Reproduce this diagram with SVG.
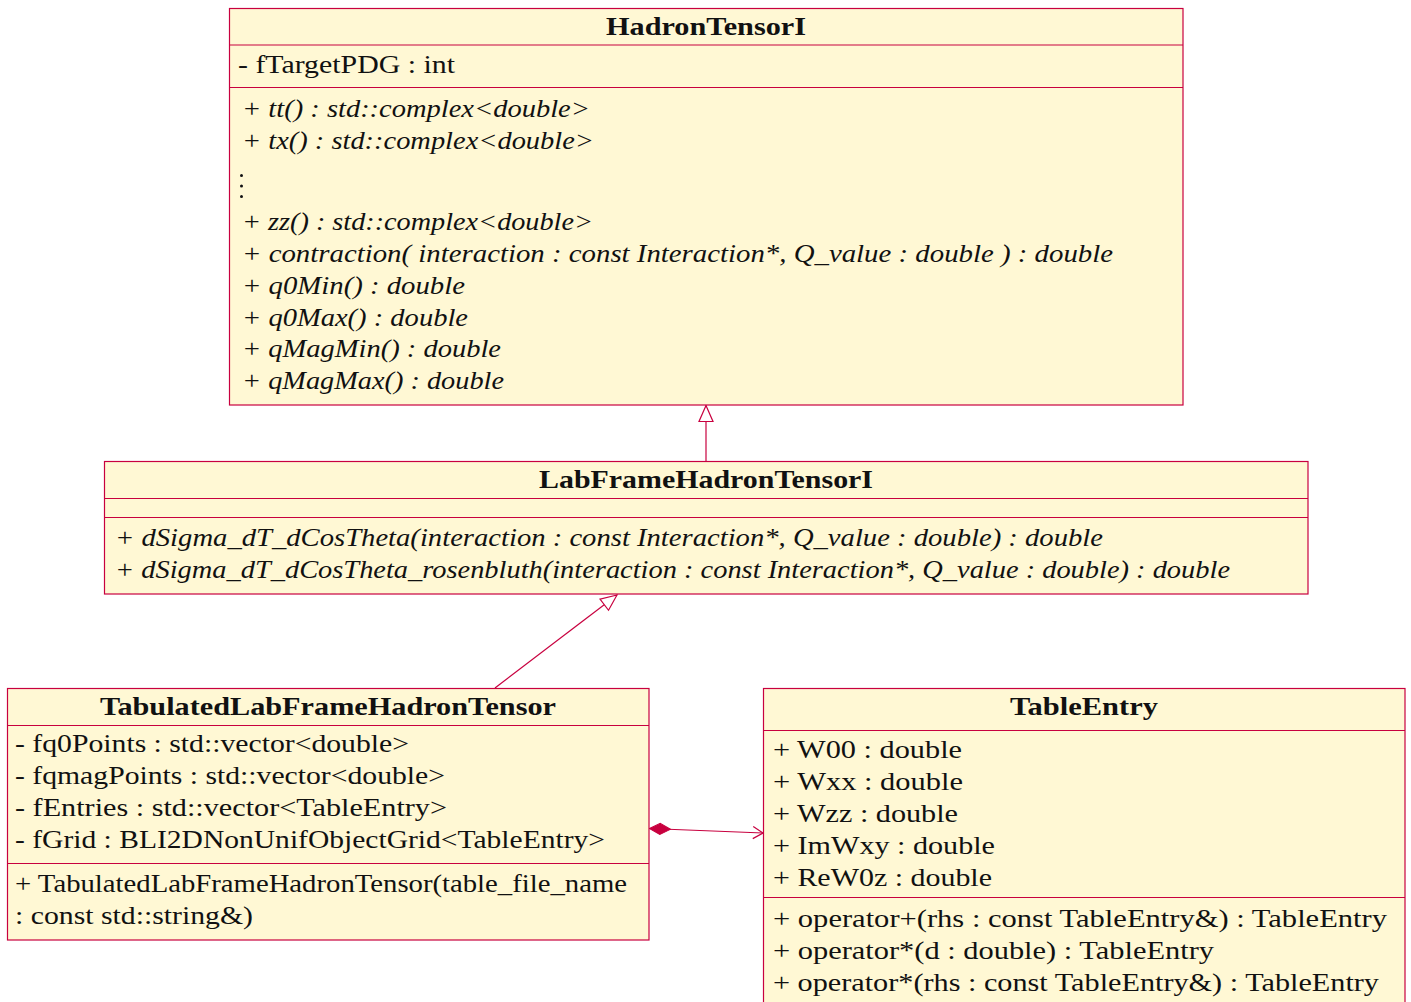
<svg xmlns="http://www.w3.org/2000/svg" width="1411" height="1002" viewBox="0 0 1411 1002">
  <style>
    .box { fill: #fff8d4; stroke: #c8003f; stroke-width: 1.2; }
    .sep { stroke: #c8003f; stroke-width: 1.2; }
    .t { font-family: "Liberation Serif", "DejaVu Serif", serif; font-size: 25px; fill: #111; }
    .title { font-weight: bold; text-anchor: middle; }
    .it { font-style: italic; }
    .edge { stroke: #c8003f; stroke-width: 1.2; fill: none; }
  </style>
  <defs>
    <!-- generalization: hollow triangle -->
    <marker id="inherit" markerUnits="userSpaceOnUse" markerWidth="24" markerHeight="20" viewBox="-18 -10 20 20" refX="0" refY="0" orient="auto">
      <path d="M0,0 L-16,-7 L-16,7 Z" fill="#ffffff" stroke="#c8003f" stroke-width="1.2"/>
    </marker>
    <!-- composition: filled diamond at the owner -->
    <marker id="compose" markerUnits="userSpaceOnUse" markerWidth="26" markerHeight="16" viewBox="-2 -8 26 16" refX="0" refY="0" orient="auto">
      <path d="M0,0 L10.5,-5.5 L21,0 L10.5,5.5 Z" fill="#c8003f" stroke="#c8003f" stroke-width="1"/>
    </marker>
    <!-- navigability: open arrow -->
    <marker id="navigate" markerUnits="userSpaceOnUse" markerWidth="16" markerHeight="16" viewBox="-12 -8 14 16" refX="0" refY="0" orient="auto">
      <path d="M-10,-6 L0,0 L-10,6" fill="none" stroke="#c8003f" stroke-width="1.2"/>
    </marker>
  </defs>

  <g id="connectors">
    <line class="edge" x1="706" y1="461" x2="706" y2="405.5" marker-end="url(#inherit)"/>
    <line class="edge" x1="495" y1="688" x2="617" y2="595" marker-end="url(#inherit)"/>
    <line class="edge" x1="649.5" y1="828.5" x2="763" y2="833" marker-start="url(#compose)" marker-end="url(#navigate)"/>
  </g>

  <g id="HadronTensorI">
    <rect class="box" x="229.5" y="8.5" width="953.5" height="396.5"/>
    <line class="sep" x1="229.5" y1="45" x2="1183" y2="45"/>
    <line class="sep" x1="229.5" y1="87.5" x2="1183" y2="87.5"/>
    <text class="t title" x="706" y="35" textLength="200" lengthAdjust="spacingAndGlyphs">HadronTensorI</text>
    <text class="t" x="238" y="73" textLength="217" lengthAdjust="spacingAndGlyphs">- fTargetPDG : int</text>
    <text class="t it" x="242" y="117" textLength="348" lengthAdjust="spacingAndGlyphs">+ tt() : std::complex&lt;double&gt;</text>
    <text class="t it" x="242" y="149" textLength="352" lengthAdjust="spacingAndGlyphs">+ tx() : std::complex&lt;double&gt;</text>
    <g fill="#111">
      <circle cx="241.5" cy="175.5" r="1.5"/>
      <circle cx="241.5" cy="186" r="1.5"/>
      <circle cx="241.5" cy="196.5" r="1.5"/>
    </g>
    <text class="t it" x="242" y="230" textLength="351" lengthAdjust="spacingAndGlyphs">+ zz() : std::complex&lt;double&gt;</text>
    <text class="t it" x="242" y="262" textLength="871" lengthAdjust="spacingAndGlyphs">+ contraction( interaction : const Interaction*, Q_value : double ) : double</text>
    <text class="t it" x="242" y="294" textLength="223" lengthAdjust="spacingAndGlyphs">+ q0Min() : double</text>
    <text class="t it" x="242" y="326" textLength="226" lengthAdjust="spacingAndGlyphs">+ q0Max() : double</text>
    <text class="t it" x="242" y="357" textLength="259" lengthAdjust="spacingAndGlyphs">+ qMagMin() : double</text>
    <text class="t it" x="242" y="389" textLength="262" lengthAdjust="spacingAndGlyphs">+ qMagMax() : double</text>
  </g>

  <g id="LabFrameHadronTensorI">
    <rect class="box" x="104.5" y="461.5" width="1203.5" height="132.5"/>
    <line class="sep" x1="104.5" y1="498.5" x2="1308" y2="498.5"/>
    <line class="sep" x1="104.5" y1="517.5" x2="1308" y2="517.5"/>
    <text class="t title" x="706" y="488" textLength="334" lengthAdjust="spacingAndGlyphs">LabFrameHadronTensorI</text>
    <text class="t it" x="115" y="546" textLength="988" lengthAdjust="spacingAndGlyphs">+ dSigma_dT_dCosTheta(interaction : const Interaction*, Q_value : double) : double</text>
    <text class="t it" x="115" y="578" textLength="1115" lengthAdjust="spacingAndGlyphs">+ dSigma_dT_dCosTheta_rosenbluth(interaction : const Interaction*, Q_value : double) : double</text>
  </g>

  <g id="TabulatedLabFrameHadronTensor">
    <rect class="box" x="7.5" y="688.5" width="641.5" height="251.5"/>
    <line class="sep" x1="7.5" y1="725.5" x2="649" y2="725.5"/>
    <line class="sep" x1="7.5" y1="863.5" x2="649" y2="863.5"/>
    <text class="t title" x="328" y="715" textLength="456" lengthAdjust="spacingAndGlyphs">TabulatedLabFrameHadronTensor</text>
    <text class="t" x="15" y="752" textLength="394" lengthAdjust="spacingAndGlyphs">- fq0Points : std::vector&lt;double&gt;</text>
    <text class="t" x="15" y="784" textLength="430" lengthAdjust="spacingAndGlyphs">- fqmagPoints : std::vector&lt;double&gt;</text>
    <text class="t" x="15" y="816" textLength="432" lengthAdjust="spacingAndGlyphs">- fEntries : std::vector&lt;TableEntry&gt;</text>
    <text class="t" x="15" y="848" textLength="590" lengthAdjust="spacingAndGlyphs">- fGrid : BLI2DNonUnifObjectGrid&lt;TableEntry&gt;</text>
    <text class="t" x="15" y="892" textLength="612" lengthAdjust="spacingAndGlyphs">+ TabulatedLabFrameHadronTensor(table_file_name</text>
    <text class="t" x="15" y="924" textLength="238" lengthAdjust="spacingAndGlyphs">: const std::string&amp;)</text>
  </g>

  <g id="TableEntry">
    <rect class="box" x="763.5" y="688.5" width="641.5" height="330"/>
    <line class="sep" x1="763.5" y1="730.5" x2="1405" y2="730.5"/>
    <line class="sep" x1="763.5" y1="897.5" x2="1405" y2="897.5"/>
    <text class="t title" x="1084" y="715" textLength="148" lengthAdjust="spacingAndGlyphs">TableEntry</text>
    <text class="t" x="773" y="758" textLength="189" lengthAdjust="spacingAndGlyphs">+ W00 : double</text>
    <text class="t" x="773" y="790" textLength="190" lengthAdjust="spacingAndGlyphs">+ Wxx : double</text>
    <text class="t" x="773" y="822" textLength="185" lengthAdjust="spacingAndGlyphs">+ Wzz : double</text>
    <text class="t" x="773" y="854" textLength="222" lengthAdjust="spacingAndGlyphs">+ ImWxy : double</text>
    <text class="t" x="773" y="886" textLength="219" lengthAdjust="spacingAndGlyphs">+ ReW0z : double</text>
    <text class="t" x="773" y="927" textLength="614" lengthAdjust="spacingAndGlyphs">+ operator+(rhs : const TableEntry&amp;) : TableEntry</text>
    <text class="t" x="773" y="959" textLength="441" lengthAdjust="spacingAndGlyphs">+ operator*(d : double) : TableEntry</text>
    <text class="t" x="773" y="991" textLength="606" lengthAdjust="spacingAndGlyphs">+ operator*(rhs : const TableEntry&amp;) : TableEntry</text>
  </g>
</svg>
